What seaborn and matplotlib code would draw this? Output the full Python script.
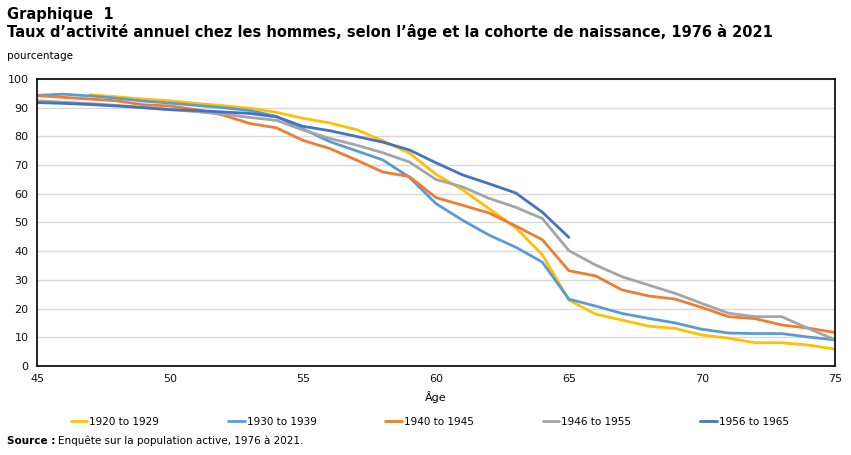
import pandas as pd
import matplotlib.pyplot as plt
import seaborn as sns

# Participation rate (%) by age, one list per birth cohort
ages_1920 = list(range(47, 76))
rate_1920 = [94.5, 93.8, 93.0, 92.4, 91.5, 90.7, 89.8, 88.4, 86.3, 84.7,
             82.4, 78.5, 74.2, 66.8, 61.4, 54.8, 48.2, 38.8, 23.0, 18.1,
             16.0, 13.9, 13.1, 10.8, 9.7, 8.1, 8.1, 7.3, 5.9]

ages_1930 = list(range(45, 76))
rate_1930 = [94.3, 94.7, 94.1, 93.3, 92.3, 91.6, 90.8, 90.0, 89.0, 87.0,
             82.6, 78.2, 75.0, 71.8, 65.8, 56.6, 50.8, 45.6, 41.4, 36.2,
             23.3, 20.9, 18.3, 16.6, 15.0, 12.8, 11.5, 11.3, 11.3, 10.1, 9.1]

ages_1940 = list(range(45, 76))
rate_1940 = [94.2, 93.6, 93.0, 92.4, 91.0, 90.6, 89.3, 87.4, 84.5, 83.0,
             78.6, 75.8, 71.8, 67.6, 66.0, 58.7, 56.0, 53.3, 48.8, 44.0,
             33.2, 31.4, 26.5, 24.4, 23.3, 20.4, 17.2, 16.5, 14.3, 13.2, 11.7]

ages_1946 = list(range(45, 76))
rate_1946 = [92.4, 91.9, 91.4, 90.8, 90.1, 89.4, 88.6, 87.8, 86.6, 85.6,
             82.2, 79.3, 77.0, 74.3, 71.1, 65.0, 62.4, 58.4, 55.3, 51.4,
             40.2, 35.2, 31.1, 28.2, 25.3, 21.8, 18.4, 17.2, 17.2, 13.1, 9.2]

ages_1956 = list(range(45, 66))
rate_1956 = [91.8, 91.5, 91.1, 90.6, 90.0, 89.3, 89.0, 88.5, 88.0, 86.8,
             83.5, 82.0, 80.0, 78.0, 75.3, 70.8, 66.6, 63.5, 60.3, 53.6, 44.8]

cohorts = ['1920 to 1929', '1930 to 1939', '1940 to 1945', '1946 to 1955', '1956 to 1965']
colors = ['#FFC000', '#5B9BD5', '#ED7D31', '#A5A5A5', '#4472C4']

frames = []
for name, a, r in zip(cohorts,
                      [ages_1920, ages_1930, ages_1940, ages_1946, ages_1956],
                      [rate_1920, rate_1930, rate_1940, rate_1946, rate_1956]):
    frames.append(pd.DataFrame({'age': a, 'rate': r, 'cohort': name}))
df = pd.concat(frames, ignore_index=True)

sns.set_theme(style='white')
plt.rcParams['font.family'] = ['DejaVu Sans']
plt.rcParams['text.color'] = 'black'

fig = plt.figure(figsize=(8.51, 4.55), dpi=100)
ax = fig.add_axes([0.0435, 0.1956, 0.9375, 0.6308])

sns.lineplot(data=df, x='age', y='rate', hue='cohort', palette=colors,
             hue_order=cohorts, linewidth=2, ax=ax, legend=False)

ax.set_xlim(45, 75)
ax.set_ylim(0, 100)
ax.set_xticks(range(45, 76, 5))
ax.set_yticks(range(0, 101, 10))
ax.tick_params(axis='both', labelsize=8, length=0, pad=6, colors='#111111')
ax.yaxis.grid(True, color='#d9d9d9', linewidth=1)
ax.set_axisbelow(True)
for s in ax.spines.values():
    s.set_color('black')
    s.set_linewidth(1.2)
ax.set_xlabel('Âge', fontsize=8, labelpad=5, color='black')
ax.set_ylabel('')

# titles
fig.text(7 / 851, 1 - 14 / 455, 'Graphique  1', fontsize=10.5, fontweight='bold', va='center')
fig.text(7 / 851, 1 - 32 / 455,
         'Taux d\u2019activité annuel chez les hommes, selon l\u2019âge et la cohorte de naissance, 1976 à 2021',
         fontsize=10.5, fontweight='bold', va='center')
fig.text(7 / 851, 1 - 56 / 455, 'pourcentage', fontsize=7.5, va='center')

# legend
handles = [plt.Line2D([], [], color=c, linewidth=2) for c in colors]
fig.legend(handles, cohorts, loc='center', bbox_to_anchor=(0.505, 1 - 422 / 455),
           ncol=5, frameon=False, fontsize=7.5, handlelength=1.6, handletextpad=0.2,
           columnspacing=6.6)

# source line
src = fig.text(7 / 851, 1 - 441 / 455, 'Source :', fontsize=7.5, fontweight='bold', va='center')
fig.canvas.draw()
bb = src.get_window_extent()
fig.text(bb.x1 / fig.bbox.width + 0.003, 1 - 441 / 455,
         'Enquête sur la population active, 1976 à 2021.', fontsize=7.5, va='center')

plt.savefig('out.png', dpi=100)
plt.close()
